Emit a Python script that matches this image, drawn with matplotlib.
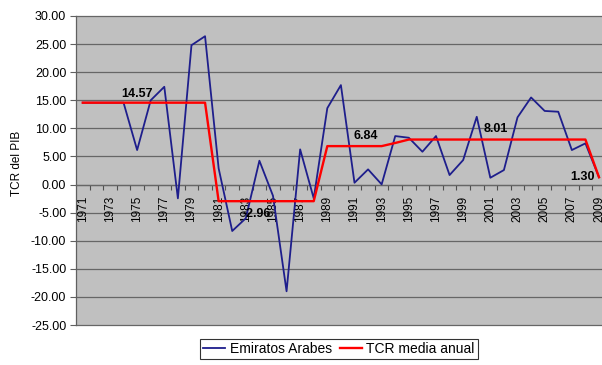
import matplotlib
matplotlib.use("Agg")
import matplotlib.pyplot as plt
from matplotlib.ticker import FixedLocator, FormatStrFormatter

plt.rcParams['font.family'] = ['Liberation Sans', 'DejaVu Sans']
plt.rcParams['axes.unicode_minus'] = False

years = list(range(1971, 2010))
emiratos = [14.57, 14.57, 14.57, 14.57, 6.14, 15.0, 17.4, -2.46, 24.8, 26.4,
            2.88, -8.27, -6.0, 4.24, -2.0, -19.0, 6.26, -2.46, 13.6, 17.7,
            0.32, 2.7, 0.03, 8.63, 8.33, 5.84, 8.63, 1.69, 4.36, 12.06,
            1.21, 2.58, 11.96, 15.5, 13.1, 12.96, 6.14, 7.33, 1.30]
media = [14.57] * 10 + [-2.96] * 8 + [6.84] * 5 + [7.40] + [8.01] * 14 + [1.30]

# value labels: (index into years, value, x offset pts, y offset pts, ha, va)
labels = [(4, 14.57, 0, 2, 'center', 'bottom'),
          (13, -2.96, -2, -5, 'center', 'top'),
          (21, 6.84, -2, 3, 'center', 'bottom'),
          (30, 8.01, 4, 3, 'center', 'bottom'),
          (38, 1.30, -3, 0, 'right', 'center')]

fig = plt.figure(figsize=(6.02, 3.65), dpi=100)
W, H = 602, 365
left, right, top, bottom = 76, 605.8, 16, 325
ax = fig.add_axes([left / W, 1 - bottom / H, (right - left) / W, (bottom - top) / H])
ax.set_facecolor('#C0C0C0')

x = list(range(len(years)))
ax.plot(x, emiratos, color='#1E1E8C', lw=1.3, label='Emiratos Arabes', zorder=3)
ax.plot(x, media, color='#FF0000', lw=1.7, label='TCR media anual', zorder=4)

ax.set_xlim(-0.5, len(years) - 0.5)
ax.set_ylim(-25, 30)

# horizontal gridlines
for v in range(-25, 31, 5):
    ax.axhline(v, color='#666666', lw=0.9, zorder=1, clip_on=False)

# y axis
ax.yaxis.set_major_locator(FixedLocator(list(range(-25, 31, 5))))
ax.yaxis.set_major_formatter(FormatStrFormatter('%.2f'))
ax.tick_params(axis='y', direction='out', length=4, width=0.8, color='#606060',
               labelsize=9, pad=3)
ax.spines['left'].set_color('#606060')
ax.spines['left'].set_linewidth(0.9)
for s in ('top', 'right'):
    ax.spines[s].set_visible(False)

# x axis crossing at zero
ax.spines['bottom'].set_position(('data', 0))
ax.spines['bottom'].set_color('#666666')
ax.spines['bottom'].set_linewidth(0.9)
ax.set_xticks(x[::2])
ax.set_xticklabels([str(y) for y in years[::2]], rotation=90, fontsize=8.5)
ax.set_xticks([i + 0.5 for i in x[:-1]], minor=True)
ax.tick_params(axis='x', which='major', length=0, pad=8)
ax.tick_params(axis='x', which='minor', direction='out', length=3.5, width=0.8,
               color='#505050')
for t in ax.get_xticklabels():
    t.set_verticalalignment('top')

for i, v, dx, dy, ha, va in labels:
    ax.annotate(f'{v:.2f}', xy=(i, v), xytext=(dx, dy), textcoords='offset points',
                ha=ha, va=va, fontsize=9, fontweight='bold', zorder=5)

fig.text(17 / W, 1 - 163 / H, 'TCR del PIB', rotation=90, ha='center', va='center',
         fontsize=8.5)

leg = fig.legend(loc='center', bbox_to_anchor=(339 / W, 1 - 349 / H), ncol=2,
                 fontsize=10, frameon=True, fancybox=False, handlelength=1.6,
                 handletextpad=0.3, columnspacing=0.6, borderpad=0.25,
                 edgecolor='black')
leg.get_frame().set_linewidth(0.8)

fig.savefig('out.png', dpi=100)
